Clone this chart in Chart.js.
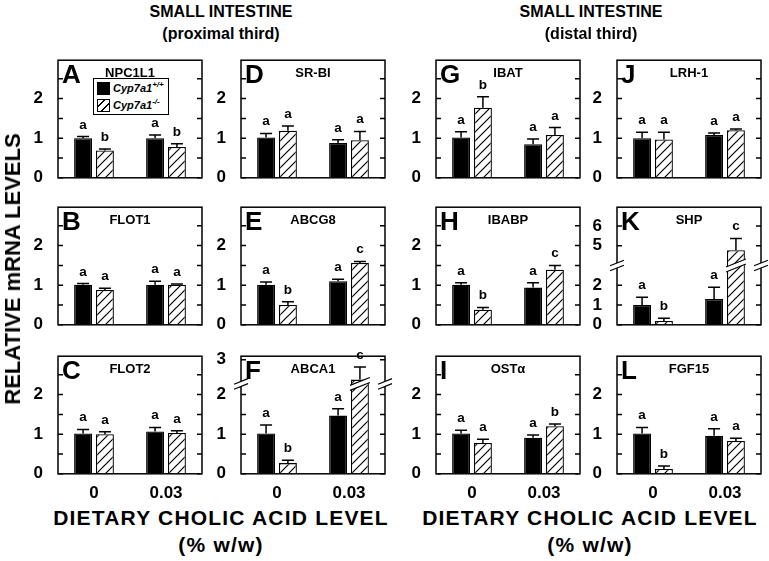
<!DOCTYPE html>
<html>
<head>
<meta charset="utf-8">
<script src="https://cdn.jsdelivr.net/npm/chart.js@4.4.1/dist/chart.umd.min.js"></script>
<style>
  body { margin: 0; background: #fff; font-family: "Liberation Sans", Arial, sans-serif; }
  #fig { position: relative; width: 769px; height: 561px; overflow: hidden; background: #fff; }
  #fig canvas { position: absolute; }
  .t { position: absolute; font-weight: bold; color: #000; white-space: nowrap; transform: translate(-50%, -50%); }
  .legend { position: absolute; left: 93px; top: 78px; width: 74px; height: 35px; border: 1px solid #000;
            background: #fff; font: italic bold 11px "Liberation Sans", Arial, sans-serif; }
  .legend div { position: absolute; left: 3px; height: 13px; line-height: 13px; }
  .legend span.sw { display: inline-block; width: 11px; height: 11px; border: 1px solid #000; vertical-align: top; margin-right: 3px; }
  .legend sup { font-size: 8px; line-height: 0; }
</style>
</head>
<body>
<div id="fig"></div>
<script>
// cholic acid dose groups (x categories)
const doses = ["0", "0.03"];
// panels in column order: A B C | D E F | G H I | J K L
const panelLetters = ["A", "B", "C", "D", "E", "F", "G", "H", "I", "J", "K", "L"];
const genes = ["NPC1L1", "FLOT1", "FLOT2", "SR-BI", "ABCG8", "ABCA1", "IBAT", "IBABP", "OSTα", "LRH-1", "SHP", "FGF15"];

// Cyp7a1+/+ mean and SEM at [0, 0.03]
const wtMean = [[1.00, 1.00], [1.01, 1.01], [1.02, 1.07], [1.02, 0.88], [1.01, 1.10], [1.02, 1.47],
                [1.02, 0.85], [1.01, 0.94], [1.02, 0.91], [1.00, 1.08], [1.00, 1.30], [1.02, 0.96]];
const wtSem  = [[0.04, 0.08], [0.03, 0.09], [0.10, 0.10], [0.10, 0.08], [0.07, 0.05], [0.21, 0.17],
                [0.14, 0.13], [0.05, 0.12], [0.08, 0.07], [0.15, 0.05], [0.40, 0.60], [0.15, 0.18]];
// Cyp7a1-/- mean and SEM at [0, 0.03]
const koMean = [[0.69, 0.78], [0.88, 1.01], [1.00, 1.03], [1.19, 0.95], [0.50, 1.56], [0.27, 2.40],
                [1.77, 1.08], [0.38, 1.39], [0.78, 1.20], [0.97, 1.20], [0.19, 4.77], [0.12, 0.83]];
const koSem  = [[0.04, 0.08], [0.04, 0.02], [0.06, 0.06], [0.12, 0.22], [0.08, 0.04], [0.07, 0.38],
                [0.28, 0.19], [0.06, 0.11], [0.09, 0.06], [0.18, 0.03], [0.14, 0.60], [0.08, 0.07]];
// significance letters
const wtSig = Array(12).fill(["a", "a"]);
const koSig = [["b", "b"], ["a", "a"], ["a", "a"], ["a", "a"], ["b", "c"], ["b", "c"],
               ["b", "a"], ["b", "c"], ["a", "b"], ["a", "a"], ["b", "c"], ["b", "a"]];

// y tick labels
const yTicks = [0, 0.5, 1, 1.5, 2, 2.5];
const abca1Ticks = [0, 0.5, 1, 1.5, 2, 3];
const shpTicks = [0, 1, 2, 5, 6];

// broken axes: F (ABCA1) compresses above 2.27, K (SHP) skips 3..4
function toAxis(p, v) {
  if (p === 5) return v <= 2.27 ? v : 2.27 + (v - 2.27) * 0.84;
  if (p === 10) return v <= 3 ? v : v - 1;
  return v;
}
const breakAt = { 5: 2.27, 10: 3 };

const FONT = '"Liberation Sans", Arial, sans-serif';
Chart.defaults.font.family = FONT;
Chart.defaults.color = "#000";

const colLeft = [58, 241, 436, 617];
const rowTop = [55, 202, 351];
const boxW = 144, boxH = 128;
const padL = 34, padR = 10, padV = 12;

function makeHatch() {
  const c = document.createElement("canvas");
  c.width = c.height = 9;
  const g = c.getContext("2d");
  g.fillStyle = "#fff";
  g.fillRect(0, 0, 9, 9);
  g.strokeStyle = "#000";
  g.lineWidth = 1.2;
  g.beginPath();
  g.moveTo(0, 9); g.lineTo(9, 0);
  g.moveTo(-2, 2); g.lineTo(2, -2);
  g.moveTo(7, 11); g.lineTo(11, 7);
  g.stroke();
  return g.createPattern(c, "repeat");
}
const hatch = makeHatch();

function drawBreak(ctx, x, y, hw) {
  const s = 0.4, g = 2.5;
  ctx.fillStyle = "#fff";
  ctx.beginPath();
  ctx.moveTo(x - hw, y + s * hw + g);
  ctx.lineTo(x + hw, y - s * hw + g);
  ctx.lineTo(x + hw, y - s * hw - g);
  ctx.lineTo(x - hw, y + s * hw - g);
  ctx.closePath();
  ctx.fill();
  ctx.strokeStyle = "#000";
  ctx.lineWidth = 1.2;
  ctx.beginPath();
  ctx.moveTo(x - hw, y + s * hw + g); ctx.lineTo(x + hw, y - s * hw + g);
  ctx.moveTo(x - hw, y + s * hw - g); ctx.lineTo(x + hw, y - s * hw - g);
  ctx.stroke();
}

const panelPlugin = {
  id: "panel",
  afterDatasetsDraw(chart) {
    const p = chart.options.plugins.panel.index;
    const ctx = chart.ctx, y = chart.scales.y;
    ctx.save();
    [[wtMean, wtSem, wtSig], [koMean, koSem, koSig]].forEach(([m, s, sig], d) => {
      chart.getDatasetMeta(d).data.forEach((bar, j) => {
        const top = y.getPixelForValue(toAxis(p, m[p][j] + s[p][j]));
        ctx.strokeStyle = "#000";
        ctx.lineWidth = 1.5;
        ctx.beginPath();
        ctx.moveTo(bar.x, bar.y);
        ctx.lineTo(bar.x, top);
        ctx.moveTo(bar.x - 6, top);
        ctx.lineTo(bar.x + 6, top);
        ctx.stroke();
        ctx.fillStyle = "#000";
        ctx.font = "bold 13.5px " + FONT;
        ctx.textAlign = "center";
        ctx.fillText(sig[p][j], bar.x, top - 8);
        if (breakAt[p] !== undefined && toAxis(p, m[p][j]) > breakAt[p]) {
          drawBreak(ctx, bar.x, y.getPixelForValue(breakAt[p]), bar.width / 2 + 1);
        }
      });
    });
    ctx.restore();
  },
  afterDraw(chart) {
    const p = chart.options.plugins.panel.index;
    const ctx = chart.ctx, a = chart.chartArea, y = chart.scales.y;
    ctx.save();
    ctx.strokeStyle = "#000";
    ctx.lineWidth = 1.5;
    ctx.strokeRect(a.left, a.top, a.right - a.left, a.bottom - a.top);
    ctx.beginPath();
    y.ticks.forEach(t => {
      const py = y.getPixelForValue(t.value);
      ctx.moveTo(a.left, py); ctx.lineTo(a.left + 5, py);
      ctx.moveTo(a.right - 5, py); ctx.lineTo(a.right, py);
    });
    ctx.stroke();
    if (breakAt[p] !== undefined) {
      const py = y.getPixelForValue(breakAt[p]);
      drawBreak(ctx, a.left, py, 7);
      drawBreak(ctx, a.right, py, 7);
    }
    ctx.fillStyle = "#000";
    ctx.textAlign = "left";
    ctx.font = "bold 26px " + FONT;
    ctx.fillText(panelLetters[p], a.left + 4, a.top + 23);
    ctx.textAlign = "center";
    ctx.font = "bold 13px " + FONT;
    ctx.fillText(genes[p], a.left + 72, a.top + 17);
    ctx.restore();
  }
};

const fig = document.getElementById("fig");

for (let p = 0; p < 12; p++) {
  const col = Math.floor(p / 3), row = p % 3;
  const cv = document.createElement("canvas");
  cv.width = boxW + padL + padR;
  cv.height = boxH + 2 * padV;
  cv.style.left = (colLeft[col] - padL) + "px";
  cv.style.top = (rowTop[row] - padV) + "px";
  fig.appendChild(cv);

  const realTicks = p === 5 ? abca1Ticks : p === 10 ? shpTicks : yTicks;
  const yMax = p === 10 ? 5.95 : 2.97;

  new Chart(cv, {
    type: "bar",
    data: {
      labels: doses,
      datasets: [
        {
          label: "Cyp7a1+/+",
          data: wtMean[p].map(v => toAxis(p, v)),
          backgroundColor: "#000",
          borderColor: "#000",
          borderWidth: 1.3,
        },
        {
          label: "Cyp7a1-/-",
          data: koMean[p].map(v => toAxis(p, v)),
          backgroundColor: hatch,
          borderColor: "#000",
          borderWidth: 1.3,
        },
      ],
    },
    options: {
      responsive: false,
      animation: false,
      devicePixelRatio: 1,
      layout: { padding: { left: 0, right: padR, top: padV, bottom: padV } },
      datasets: { bar: { barPercentage: 0.82, categoryPercentage: 0.607 } },
      scales: {
        x: { display: false },
        y: {
          min: 0,
          max: yMax,
          afterBuildTicks: s => { s.ticks = realTicks.map(v => ({ value: toAxis(p, v) })); },
          afterFit: s => { s.width = padL; },
          grid: { display: false },
          border: { display: false },
          ticks: {
            padding: 7,
            font: { size: 17, weight: "bold" },
            callback: (v, i) => (Number.isInteger(realTicks[i]) ? String(realTicks[i]) : ""),
          },
        },
      },
      plugins: {
        legend: { display: false },
        tooltip: { enabled: false },
        panel: { index: p },
      },
    },
    plugins: [panelPlugin],
  });
}

function addText(txt, x, y, size, extra, spacing) {
  const d = document.createElement("div");
  d.className = "t";
  d.textContent = txt;
  d.style.left = x + "px";
  d.style.top = y + "px";
  d.style.fontSize = size + "px";
  if (spacing) d.style.letterSpacing = spacing + "px";
  if (extra) d.style.transform = extra;
  fig.appendChild(d);
}

addText("SMALL INTESTINE", 221, 12, 16);
addText("(proximal third)", 221, 34, 16);
addText("SMALL INTESTINE", 591, 12, 16);
addText("(distal third)", 591, 34, 16);
addText("RELATIVE mRNA LEVELS", 13, 269, 22, "translate(-50%, -50%) rotate(-90deg)");
colLeft.forEach(l => {
  addText(doses[0], l + 36, 493, 17);
  addText(doses[1], l + 108, 493, 17);
});
addText("DIETARY CHOLIC ACID LEVEL", 221, 518, 21, null, 1.2);
addText("(% w/w)", 221, 545, 21, null, 1.2);
addText("DIETARY CHOLIC ACID LEVEL", 590, 518, 21, null, 1.2);
addText("(% w/w)", 590, 545, 21, null, 1.2);

// legend in panel A
const lg = document.createElement("div");
lg.className = "legend";
lg.innerHTML =
  '<div style="top:3px"><span class="sw" style="background:#000"></span>Cyp7a1<sup>+/+</sup></div>' +
  '<div style="top:20px"><span class="sw" style="background:repeating-linear-gradient(-45deg,#fff 0 4.5px,#000 4.5px 5.7px)"></span>Cyp7a1<sup>-/-</sup></div>';
fig.appendChild(lg);
</script>
</body>
</html>
